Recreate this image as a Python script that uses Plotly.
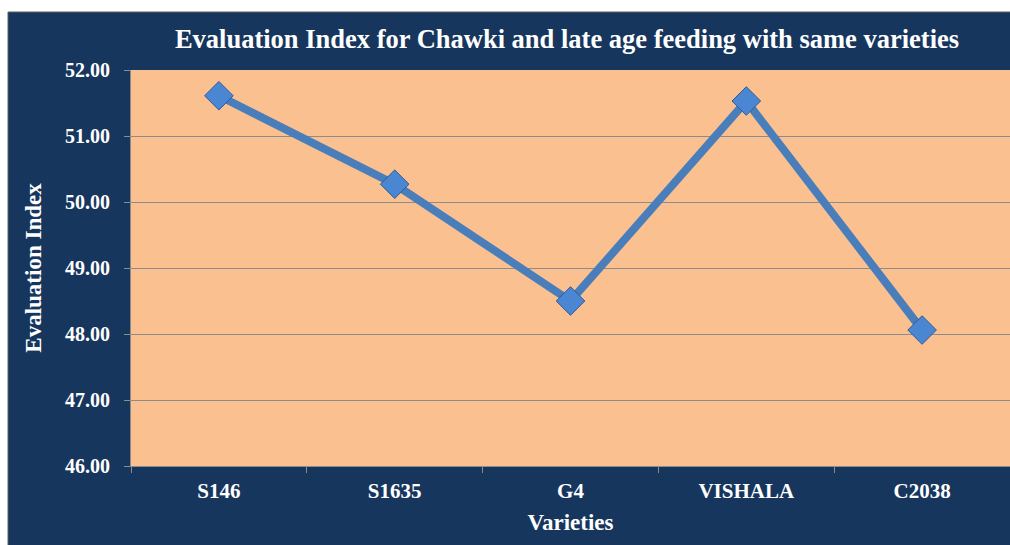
import plotly.graph_objects as go

categories = ["S146", "S1635", "G4", "VISHALA", "C2038"]
evaluation_index = [51.61, 50.27, 48.50, 51.53, 48.06]
y_ticks = [46, 47, 48, 49, 50, 51, 52]

NAVY = "#17365d"
ORANGE = "#fac08f"
FONT = "Liberation Serif"

fig = go.Figure()
fig.add_trace(go.Scatter(
    x=categories, y=evaluation_index, mode="lines+markers",
    line=dict(color="#4a7ebb", width=8),
    marker=dict(symbol="diamond", size=22, color="#4a86d2",
                line=dict(color="#2b5c98", width=1)),
    hoverinfo="x+y", showlegend=False,
))

W, H = 1010, 545
L, R, T, B = 131, 0, 70, 79
pw, ph = W - L - R, H - T - B

fig.add_shape(type="rect", xref="paper", yref="paper", layer="below",
              x0=(8 - L) / pw, x1=1 + 4 / pw,
              y0=-(B + 4) / ph, y1=1 + (T - 12) / ph,
              fillcolor=NAVY, line=dict(color="#606060", width=1))
fig.add_shape(type="rect", xref="paper", yref="paper", layer="below",
              x0=0, x1=1, y0=0, y1=1,
              fillcolor=ORANGE, line=dict(width=0))

fig.update_layout(
    width=W, height=H,
    margin=dict(l=L, r=R, t=T, b=B),
    paper_bgcolor="white",
    plot_bgcolor="rgba(0,0,0,0)",
    title=dict(text="Evaluation Index for Chawki and late age feeding with same varieties",
               x=567 / W, xanchor="center", y=1 - 39 / H, yanchor="middle",
               font=dict(family=FONT, size=26.5, color="white", weight="bold")),
    font=dict(family=FONT, color="white"),
)
fig.update_xaxes(
    range=[-0.5, 4.5], showgrid=False,
    showline=True, linecolor="#8c8c8c", linewidth=1,
    ticks="outside", tickson="boundaries", ticklen=6, tickcolor="#8c8c8c",
    tickfont=dict(family=FONT, size=21, color="white", weight="bold"),
    ticklabelstandoff=6,
    title=dict(text="Varieties", font=dict(family=FONT, size=23, color="white", weight="bold"), standoff=11),
)
fig.update_yaxes(
    range=[46, 52], tickvals=y_ticks, tickformat=".2f",
    showgrid=True, gridcolor="#8c8c8c", gridwidth=1,
    showline=True, linecolor="#8c8c8c", linewidth=1,
    ticks="outside", ticklen=6, tickcolor="#8c8c8c",
    tickfont=dict(family=FONT, size=20, color="white", weight="bold"),
    ticklabelstandoff=10,
    title=dict(text="Evaluation Index", font=dict(family=FONT, size=23, color="white", weight="bold"), standoff=16),
    zeroline=False,
)

fig.write_html("out.html", config={"displayModeBar": False},
               post_script="document.body.style.margin='0';document.body.style.overflow='hidden';")
